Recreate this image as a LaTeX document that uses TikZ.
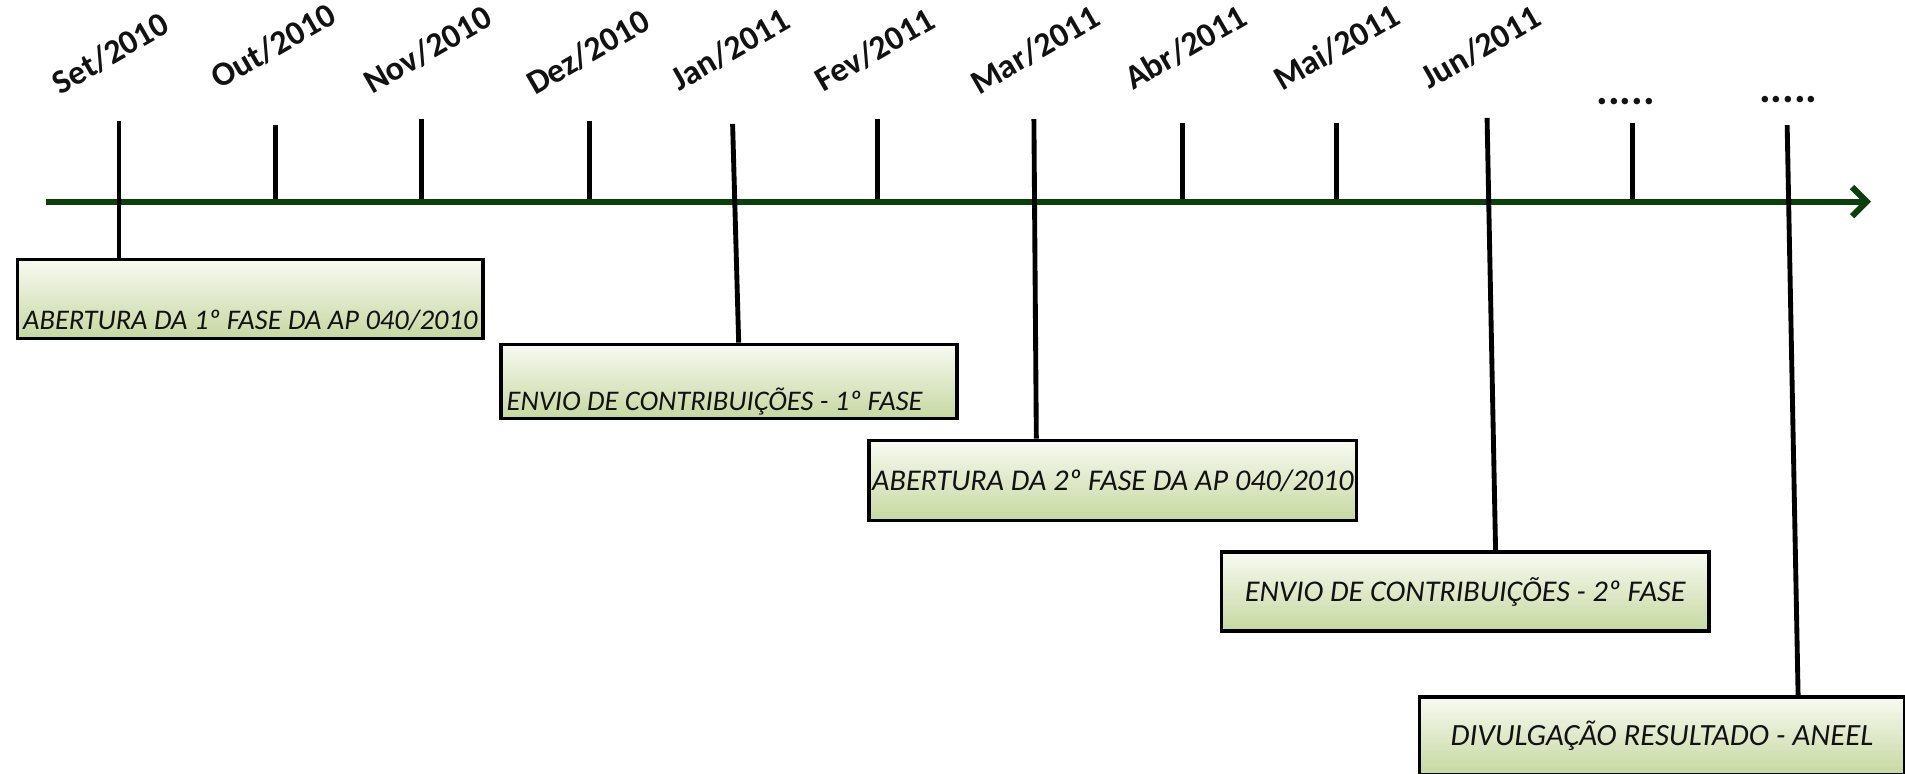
\documentclass[tikz,border=0pt]{standalone}
\usepackage{fontspec}
\setmainfont{Carlito}
\usetikzlibrary{arrows.meta}
\definecolor{axisgreen}{HTML}{0C3F0C}
\definecolor{boxtop}{HTML}{F8FAF2}
\definecolor{boxbot}{HTML}{C6D8A0}
\definecolor{textdark}{HTML}{121212}
\begin{document}
\begin{tikzpicture}[x=0.5pt,y=-0.5pt,
  tick/.style={line width=2pt, black},
  datelbl/.style={font=\bfseries\fontsize{14}{16}\selectfont, rotate=30, inner sep=0pt, text=textdark},
  dotlbl/.style={font=\bfseries\fontsize{18}{20}\selectfont, inner sep=0pt, text=textdark},
  evbox/.style={draw=black, line width=1.5pt, top color=boxtop, bottom color=boxbot,
    inner sep=0pt, font=\itshape\fontsize{12.4}{14}\selectfont, text=textdark, anchor=north west},
  smalltxt/.style={font=\itshape\fontsize{11.7}{13}\selectfont},
  axisline/.style={line width=2.5pt, draw=axisgreen, -{Straight Barb[length=6pt,width=12pt]}}]
\useasboundingbox (0,0) rectangle (1568,637);

% axis end points
\coordinate (axL) at (38,166);
\coordinate (axR) at (1540,166);

% tick tops
\coordinate (tSet) at (98,100);
\coordinate (tOut) at (227,103);
\coordinate (tNov) at (347,98);
\coordinate (tDez) at (485,100);
\coordinate (tJan) at (603,102);
\coordinate (tFev) at (722,98);
\coordinate (tMar) at (851,98);
\coordinate (tAbr) at (973,101);
\coordinate (tMai) at (1100,101);
\coordinate (tJun) at (1224,97);
\coordinate (tD1) at (1344,101);
\coordinate (tD2) at (1471,103);

% month labels
\node[datelbl] (lSet) at (91,44) {Set/2010};
\node[datelbl] (lOut) at (225,38) {Out/2010};
\node[datelbl] (lNov) at (352,41) {Nov/2010};
\node[datelbl] (lDez) at (484,43) {Dez/2010};
\node[datelbl] (lJan) at (601,41) {Jan/2011};
\node[datelbl] (lFev) at (720,41) {Fev/2011};
\node[datelbl] (lMar) at (852,41) {Mar/2011};
\node[datelbl] (lAbr) at (976,39) {Abr/2011};
\node[datelbl] (lMai) at (1100,39) {Mai/2011};
\node[datelbl] (lJun) at (1219,39) {Jun/2011};
\node[dotlbl] (dot1) at (1338,84) {.....};
\node[dotlbl] (dot2) at (1472,82) {.....};

% event boxes
\node[evbox, smalltxt, minimum width=191.5pt, text height=29pt, text depth=3.5pt] (b1) at (13,212)
  {ABERTURA DA 1º FASE DA AP 040/2010};
\node[evbox, smalltxt, minimum width=187.5pt, text height=27pt, text depth=3.5pt] (b2) at (411,282)
  {\makebox[183pt][l]{ENVIO DE CONTRIBUIÇÕES - 1º FASE}};
\node[evbox, minimum width=200.5pt, minimum height=33pt] (b3) at (714,361)
  {ABERTURA DA 2º FASE DA AP 040/2010};
\node[evbox, minimum width=200.5pt, minimum height=32.5pt] (b4) at (1004,453)
  {ENVIO DE CONTRIBUIÇÕES - 2º FASE};
\node[evbox, font=\itshape\fontsize{12.7}{14}\selectfont, minimum width=199.5pt, minimum height=32pt] (b5) at (1167,572)
  {DIVULGAÇÃO RESULTADO - ANEEL};

% bottom ends of the long ticks
\coordinate (eJan) at (608,282);
\coordinate (eMar) at (853,361);
\coordinate (eJun) at (1231,453);
\coordinate (eD2) at (1480,572);

% short ticks
\foreach \t in {tOut,tNov,tDez,tFev,tAbr,tMai,tD1}
  \draw[tick] (\t) -- (\t |- axL);

% axis
\draw[axisline] (axL) -- (axR);

% long ticks to the event boxes
\draw[tick] (tSet) -- (tSet |- b1.north);
\draw[tick] (tJan) -- (eJan);
\draw[tick] (tMar) -- (eMar);
\draw[tick] (tJun) -- (eJun);
\draw[tick] (tD2) -- (eD2);
\end{tikzpicture}
\end{document}
